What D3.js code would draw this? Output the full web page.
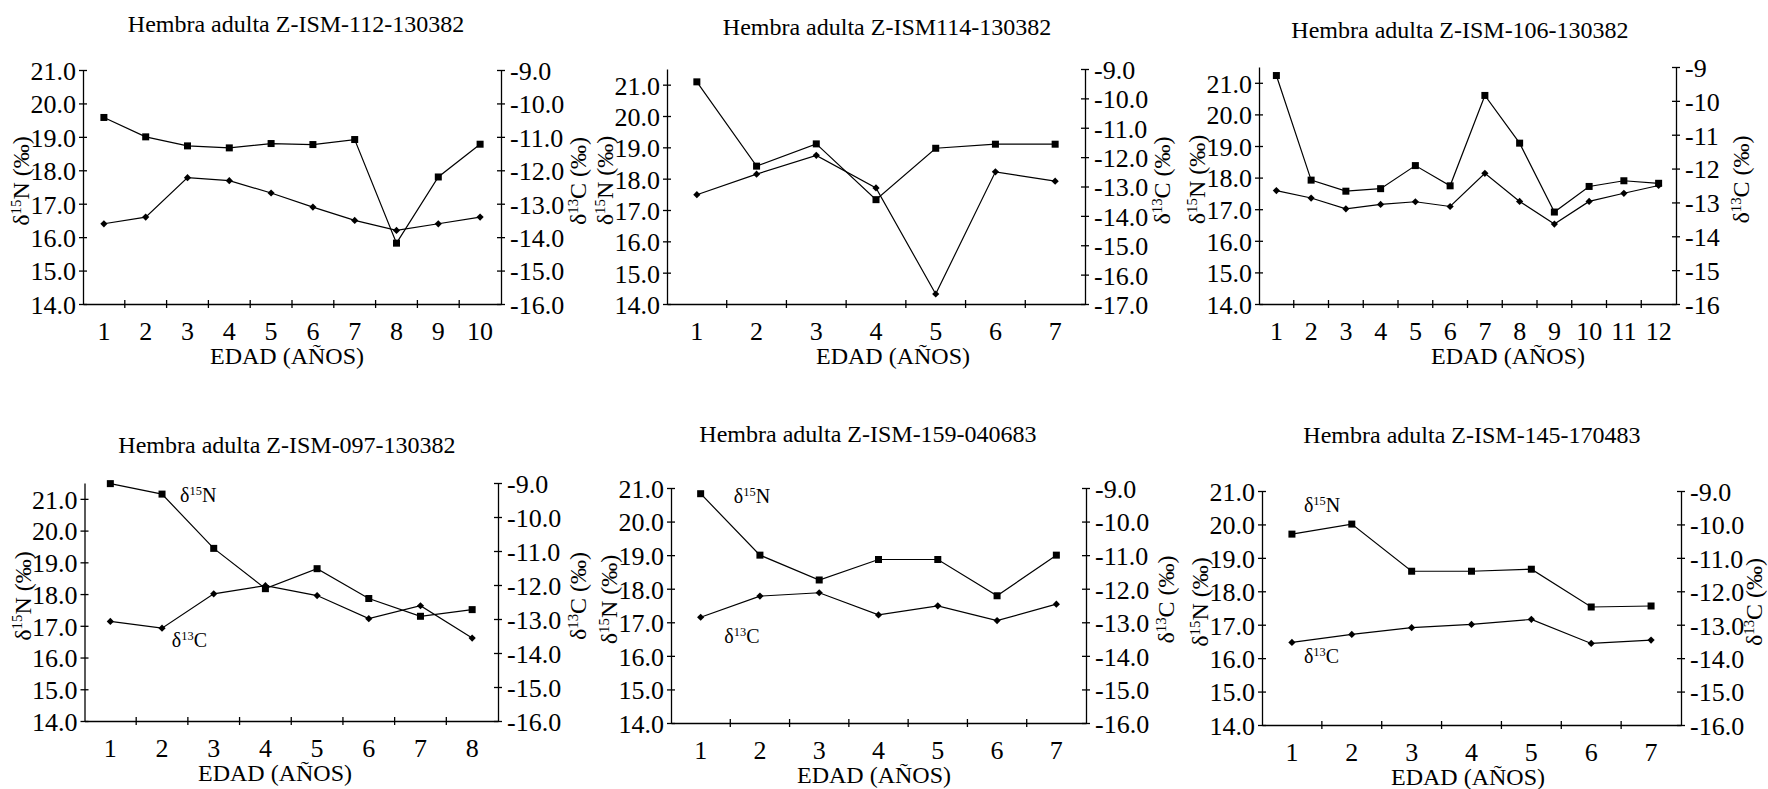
<!DOCTYPE html>
<html>
<head>
<meta charset="utf-8">
<script src="https://cdn.jsdelivr.net/npm/d3@7/dist/d3.min.js"></script>
<style>
  body { margin: 0; background: #fff; }
  svg text { font-family: "Liberation Serif", "Times New Roman", serif; fill: #000; }
</style>
</head>
<body>
<svg id="chart" width="1768" height="789"></svg>
<script>
// ---- data ----
var titles = [
  "Hembra adulta Z-ISM-112-130382",
  "Hembra adulta Z-ISM114-130382",
  "Hembra adulta Z-ISM-106-130382",
  "Hembra adulta Z-ISM-097-130382",
  "Hembra adulta Z-ISM-159-040683",
  "Hembra adulta Z-ISM-145-170483"
];

var ages112 = [1, 2, 3, 4, 5, 6, 7, 8, 9, 10];
var n112 = [19.58, 19.0, 18.73, 18.67, 18.8, 18.77, 18.92, 15.82, 17.8, 18.78];
var c112 = [-13.6, -13.4, -12.22, -12.31, -12.68, -13.1, -13.5, -13.8, -13.6, -13.4];

var ages114 = [1, 2, 3, 4, 5, 6, 7];
var n114 = [21.09, 18.4, 19.11, 17.33, 18.97, 19.1, 19.1];
var c114 = [-13.28, -12.58, -11.94, -13.05, -16.66, -12.5, -12.82];

var ages106 = [1, 2, 3, 4, 5, 6, 7, 8, 9, 10, 11, 12];
var n106 = [21.23, 17.92, 17.57, 17.65, 18.38, 17.74, 20.6, 19.09, 16.91, 17.72, 17.9, 17.82];
var c106 = [-12.65, -12.87, -13.19, -13.06, -12.98, -13.12, -12.14, -12.97, -13.64, -12.97, -12.73, -12.5];

var ages097 = [1, 2, 3, 4, 5, 6, 7, 8];
var n097 = [21.48, 21.15, 19.44, 18.17, 18.8, 17.86, 17.3, 17.51];
var c097 = [-13.07, -13.27, -12.26, -12.02, -12.31, -12.99, -12.61, -13.56];

var ages159 = [1, 2, 3, 4, 5, 6, 7];
var n159 = [20.83, 19.0, 18.26, 18.87, 18.87, 17.79, 19.0];
var c159 = [-12.85, -12.22, -12.12, -12.78, -12.51, -12.95, -12.46];

var ages145 = [1, 2, 3, 4, 5, 6, 7];
var n145 = [19.71, 20.01, 18.6, 18.6, 18.66, 17.53, 17.56];
var c145 = [-13.53, -13.29, -13.09, -12.99, -12.84, -13.56, -13.46];

var nTicks = [14, 15, 16, 17, 18, 19, 20, 21];

// ---- layout of the six panels ----
var panels = [
  { ages: ages112, n: n112, c: c112, left: 83, right: 501, top: 70, bottom: 304, nTop: 21, cDom: [-16, -9], cDec: 1,
    titleX: 296, titleY: 32, xlabX: 287, rOff: 77 },
  { ages: ages114, n: n114, c: c114, left: 667, right: 1085, top: 69, bottom: 304, nTop: 21.5, cDom: [-17, -9], cDec: 1,
    titleX: 887, titleY: 35, xlabX: 893, rOff: 77 },
  { ages: ages106, n: n106, c: c106, left: 1259, right: 1676, top: 67, bottom: 304, nTop: 21.5, cDom: [-16, -9], cDec: 0,
    titleX: 1460, titleY: 38, xlabX: 1508, rOff: 65 },
  { ages: ages097, n: n097, c: c097, left: 84.5, right: 498, top: 483, bottom: 721, nTop: 21.5, cDom: [-16, -9], cDec: 1,
    titleX: 287, titleY: 453, xlabX: 275, rOff: 80,
    notes: [{ k: 2.35, v: 20.9, s: "15", e: "N" }, { k: 2.19, v: 16.33, s: "13", e: "C" }] },
  { ages: ages159, n: n159, c: c159, left: 671, right: 1086, top: 488, bottom: 723, nTop: 21, cDom: [-16, -9], cDec: 1,
    titleX: 868, titleY: 442, xlabX: 874, rOff: 80,
    notes: [{ k: 1.56, v: 20.55, s: "15", e: "N" }, { k: 1.4, v: 16.39, s: "13", e: "C" }] },
  { ages: ages145, n: n145, c: c145, left: 1262, right: 1681, top: 491, bottom: 725, nTop: 21, cDom: [-16, -9], cDec: 1,
    titleX: 1472, titleY: 443, xlabX: 1468, rOff: 73,
    notes: [{ k: 1.2, v: 20.37, s: "15", e: "N" }, { k: 1.2, v: 15.85, s: "13", e: "C" }] }
];

var svg = d3.select("#chart");
var TICK_FS = 26, LABEL_FS = 24, TITLE_FS = 24, NOTE_FS = 20;

// text with a superscript: delta + iso number + element + tail
function isoText(sel, sup, elem, tail, size) {
  sel.append("tspan").text("δ");
  sel.append("tspan").text(sup).attr("font-size", size * 0.62).attr("dy", -size * 0.36);
  sel.append("tspan").text(elem + (tail || "")).attr("dy", size * 0.36);
}

function styleAxis(a) {
  a.attr("font-size", TICK_FS).attr("font-family", null);
  a.select(".domain").attr("stroke", "#000").attr("stroke-width", 1.3);
  a.selectAll(".tick line").attr("stroke", "#000").attr("stroke-width", 1.3);
  a.selectAll(".tick text").attr("fill", "#000");
}

panels.forEach(function(p, i) {
  var g = svg.append("g");
  var x = d3.scaleBand().domain(p.ages).range([p.left, p.right]);
  var yN = d3.scaleLinear().domain([14, p.nTop]).range([p.bottom, p.top]);
  var yC = d3.scaleLinear().domain(p.cDom).range([p.bottom, p.top]);
  var half = x.bandwidth() / 2;
  var cTicks = d3.range(p.cDom[0], p.cDom[1] + 1);

  // left axis (δ15N)
  var aL = g.append("g").attr("transform", "translate(" + p.left + ",0)")
    .call(d3.axisLeft(yN).tickValues(nTicks).tickFormat(function(d) { return d.toFixed(1); })
      .tickSizeOuter(0).tickSizeInner(4).tickPadding(3));
  styleAxis(aL);
  aL.selectAll(".tick line").attr("x1", 4);
  aL.selectAll(".tick text").attr("dy", "0.36em");

  // right axis (δ13C)
  var aR = g.append("g").attr("transform", "translate(" + p.right + ",0)")
    .call(d3.axisRight(yC).tickValues(cTicks).tickFormat(function(d) { return d.toFixed(p.cDec); })
      .tickSizeOuter(0).tickSizeInner(4).tickPadding(5));
  styleAxis(aR);
  aR.selectAll(".tick line").attr("x1", -4);
  aR.selectAll(".tick text").attr("dy", "0.36em");

  // bottom axis with ticks between the ages
  var aB = g.append("g").attr("transform", "translate(0," + p.bottom + ")")
    .call(d3.axisBottom(x).tickSize(0).tickPadding(18));
  styleAxis(aB);
  aB.selectAll(".tick text").attr("dy", "0.71em");
  g.selectAll(".sep").data(p.ages.slice(1)).enter().append("line")
    .attr("x1", function(d) { return x(d); }).attr("x2", function(d) { return x(d); })
    .attr("y1", p.bottom - 4).attr("y2", p.bottom + 4)
    .attr("stroke", "#000").attr("stroke-width", 1.3);

  // series
  var pts = p.ages.map(function(a, j) { return { age: a, n: p.n[j], c: p.c[j] }; });
  var lineN = d3.line().x(function(d) { return x(d.age) + half; }).y(function(d) { return yN(d.n); });
  var lineC = d3.line().x(function(d) { return x(d.age) + half; }).y(function(d) { return yC(d.c); });
  g.append("path").datum(pts).attr("d", lineN).attr("fill", "none").attr("stroke", "#000").attr("stroke-width", 1.2);
  g.append("path").datum(pts).attr("d", lineC).attr("fill", "none").attr("stroke", "#000").attr("stroke-width", 1.2);

  g.selectAll(".sq").data(pts).enter().append("rect")
    .attr("x", function(d) { return x(d.age) + half - 3.5; })
    .attr("y", function(d) { return yN(d.n) - 3.5; })
    .attr("width", 7).attr("height", 7).attr("fill", "#000");

  var diamond = d3.symbol(d3.symbolSquare, 26);
  g.selectAll(".dm").data(pts).enter().append("path")
    .attr("d", diamond)
    .attr("transform", function(d) { return "translate(" + (x(d.age) + half) + "," + yC(d.c) + ") rotate(45)"; })
    .attr("fill", "#000");

  // title
  g.append("text").attr("x", p.titleX).attr("y", p.titleY).attr("text-anchor", "middle")
    .attr("font-size", TITLE_FS).text(titles[i]);

  // x label
  g.append("text").attr("x", p.xlabX).attr("y", p.bottom + 60).attr("text-anchor", "middle")
    .attr("font-size", LABEL_FS).text("EDAD (AÑOS)");

  // y labels
  var cy = (p.top + p.bottom) / 2 - 6;
  var tl = g.append("text").attr("transform", "translate(" + (p.left - 62) + "," + cy + ") rotate(-90)")
    .attr("y", LABEL_FS * 0.35).attr("text-anchor", "middle").attr("font-size", LABEL_FS);
  isoText(tl, "15", "N", " (‰)", LABEL_FS);
  var tr = g.append("text").attr("transform", "translate(" + (p.right + p.rOff) + "," + cy + ") rotate(-90)")
    .attr("y", LABEL_FS * 0.35).attr("text-anchor", "middle").attr("font-size", LABEL_FS);
  isoText(tr, "13", "C", " (‰)", LABEL_FS);

  // series notes in the plot
  var kx = d3.scaleLinear().domain([0.5, p.ages.length + 0.5]).range([p.left, p.right]);
  (p.notes || []).forEach(function(nt) {
    var t = g.append("text").attr("x", kx(nt.k)).attr("y", yN(nt.v)).attr("font-size", NOTE_FS);
    isoText(t, nt.s, nt.e, "", NOTE_FS);
  });
});
</script>
</body>
</html>
